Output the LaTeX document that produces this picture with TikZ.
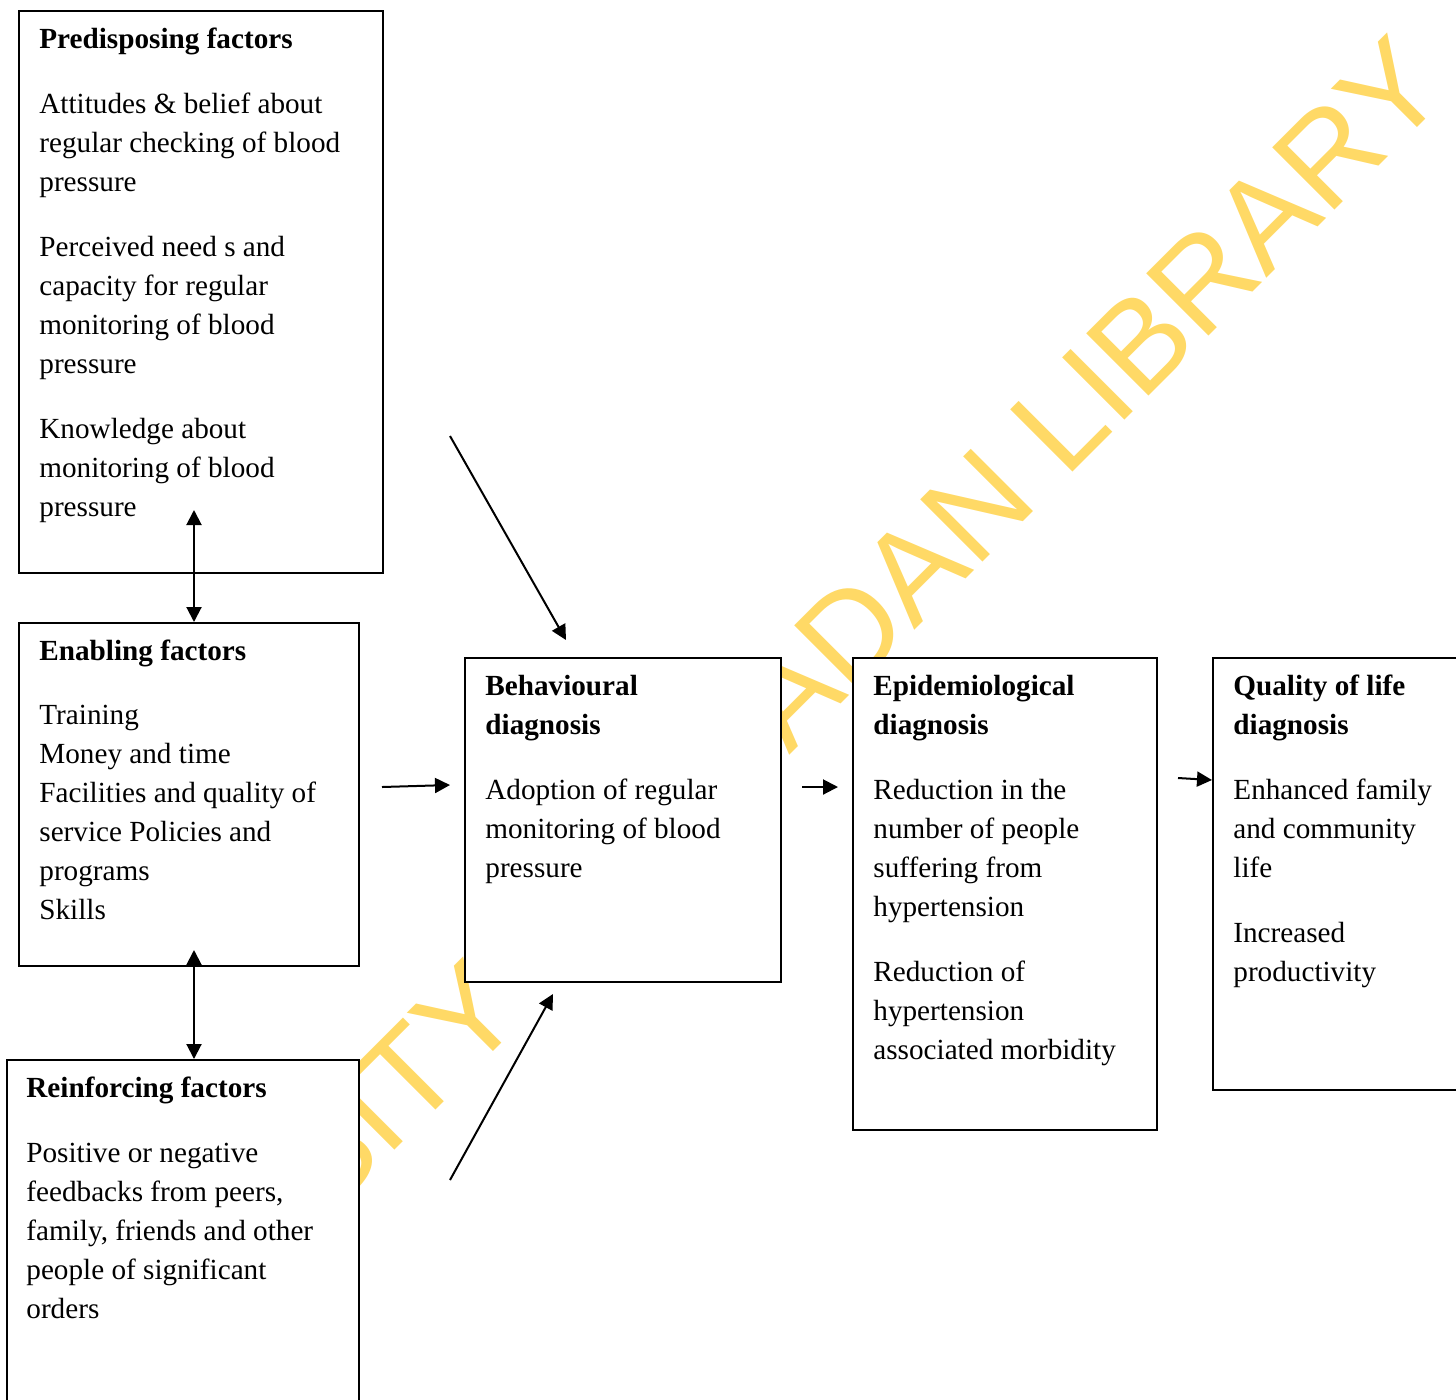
\documentclass[tikz,border=0pt]{standalone}
\usepackage{fontspec}
\setmainfont{Liberation Serif}
\newfontfamily\markfont{Liberation Sans}
\usetikzlibrary{positioning, arrows.meta, calc}
\definecolor{MarkYellow}{HTML}{FFD966}

\begin{document}
\begin{tikzpicture}[x=0.5pt, y=-0.5pt,
    box/.style={draw, line width=1pt, fill=white, anchor=north west, inner sep=0pt},
    txt/.style={align=left, inner sep=0pt, font=\fontsize{14.6}{19.5}\selectfont},
    arr/.style={-{Triangle[length=7.5pt,width=7.5pt]}, line width=1pt},
    dbl/.style={{Triangle[length=7.5pt,width=7.5pt]}-{Triangle[length=7.5pt,width=7.5pt]}, line width=1pt}]

\useasboundingbox (0,0) rectangle (1456,1399);

% Watermark
\node[anchor=base, rotate=45, text=MarkYellow, font=\fontsize{64}{64}\markfont] (mark) at (718,827) {UNIVERSITY OF IBADAN LIBRARY};

% Boxes
\node[box, minimum width=182pt, minimum height=281pt] (pre) at (18,10) {};
\node[box, minimum width=170pt, minimum height=171.5pt] (ena) at (18,622) {};
\node[box, minimum width=176pt, minimum height=180pt] (rei) at (6,1059) {};
\node[box, minimum width=158pt, minimum height=162pt] (beh) at (464,657) {};
\node[box, minimum width=152pt, minimum height=236pt] (epi) at (852,657) {};
\node[box, minimum width=130pt, minimum height=216pt] (qua) at (1212,657) {};

% Box texts
\node[txt, below right=5.35pt and 10.5pt of pre.north west] (pretext) {\strut\textbf{Predisposing factors}\\[13pt]
    Attitudes \& belief about\\ regular checking of blood\\ pressure\\[13pt]
    Perceived need s and\\ capacity for regular\\ monitoring of blood\\ pressure\\[13pt]
    Knowledge about\\ monitoring of blood\\ pressure};
\node[txt, below right=5.35pt and 10.5pt of ena.north west] (enatext) {\strut\textbf{Enabling factors}\\[12.5pt]
    Training\\ Money and time\\ Facilities and quality of\\ service Policies and\\ programs\\ Skills};
\node[txt, below right=5.35pt and 10pt of rei.north west] (reitext) {\strut\textbf{Reinforcing factors}\\[13pt]
    Positive or negative\\ feedbacks from peers,\\ family, friends and other\\ people of significant\\ orders};
\node[txt, below right=5.35pt and 10.5pt of beh.north west] (behtext) {\strut\textbf{Behavioural}\\ \textbf{diagnosis}\\[13pt]
    Adoption of regular\\ monitoring of blood\\ pressure};
\node[txt, below right=5.35pt and 10.5pt of epi.north west] (epitext) {\strut\textbf{Epidemiological}\\ \textbf{diagnosis}\\[13pt]
    Reduction in the\\ number of people\\ suffering from\\ hypertension\\[13pt]
    Reduction of\\ hypertension\\ associated morbidity};
\node[txt, below right=5.35pt and 10.5pt of qua.north west] (quatext) {\strut\textbf{Quality of life}\\ \textbf{diagnosis}\\[13pt]
    Enhanced family\\ and community\\ life\\[13pt]
    Increased\\ productivity};

% Free ends of the arrows
\coordinate (topfree) at (450,436);
\coordinate (botfree) at (450,1180);
\coordinate (enaout) at (382,787);

% Arrows
\draw[dbl] ($(pre.south west)+(176,-64)$) -- ($(ena.north west)+(176,0)$);
\draw[dbl] ($(ena.south west)+(176,-17)$) -- ($(rei.north west)+(188,0)$);
\draw[arr] (topfree) -- ($(beh.north west)+(102,-17)$);
\draw[arr] (botfree) -- ($(beh.south west)+(89,11)$);
\draw[arr] (enaout) -- ($(beh.north west)+(-14,128)$);
\draw[arr] ($(beh.north east)+(20,130)$) -- ($(epi.north west)+(-14,130)$);
\draw[arr] ($(epi.north east)+(20,121)$) -- ($(qua.north west)+(0,123)$);
\end{tikzpicture}
\end{document}
